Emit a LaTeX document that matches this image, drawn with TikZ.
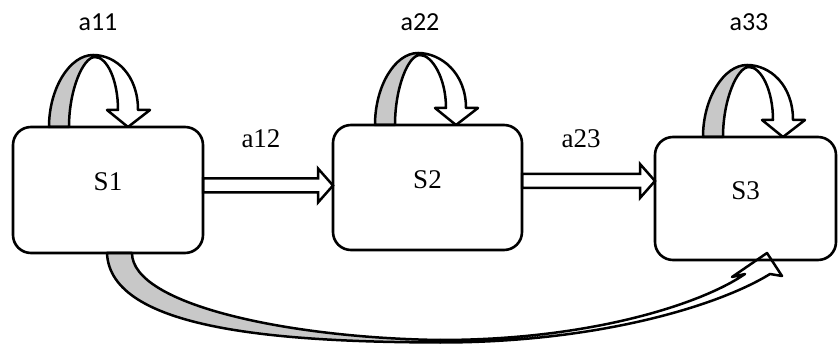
\documentclass[tikz,border=0pt]{standalone}
\usepackage{fontspec}
\setmainfont{Liberation Serif}
\newfontfamily\calibfont{Carlito}
\usetikzlibrary{calc}
\pgfdeclarelayer{back}
\pgfsetlayers{back,main}
\definecolor{ribbongrey}{RGB}{200,200,200}

\tikzset{
  state/.style={draw, line width=2.6pt, rounded corners=18pt, inner sep=0pt,
    outer sep=0pt, font=\fontsize{27}{30}\selectfont, text depth=16pt},
  steplabel/.style={anchor=base, inner sep=0pt, font=\fontsize{27}{30}\selectfont},
  looplabel/.style={anchor=base, inner sep=0pt, font=\calibfont\fontsize{26}{30}\selectfont},
  ribbonline/.style={line width=2.5pt, line join=round, draw=black},
  arrowline/.style={line width=2.5pt, line join=miter, draw=black, fill=white},
}

% Twisted ribbon loop on top of a state box.
% #1 node, #2 outer left x, #3 apex x, #4 outer right x (relative to north west corner)
\newcommand\selfloop[4]{%
  \begin{scope}[shift={(#1.north west)}]
    \filldraw[ribbonline, fill=ribbongrey]
      (#2,0) .. controls (#2,-39) and ({#3-23},-72) .. (#3,-72)
      -- ({#3+2},-70) .. controls ({#3-10},-70) and ({#2+20},-37) .. ({#2+20},0) -- cycle;
    \filldraw[ribbonline, fill=white]
      (#3,-72) .. controls ({#3+23},-72) and (#4,-52) .. (#4,-17)
      -- ({#4+12},-17) -- ({#4-10},0) -- ({#4-31},-17) -- ({#4-20},-17)
      .. controls ({#4-20},-47) and ({#3+14},-70) .. ({#3+2},-70) -- cycle;
  \end{scope}}

% Hollow block arrow from #1 to the tip #2 (same height)
\newcommand\hollowarrow[2]{%
  \draw[arrowline] let \p1=(#1), \p2=(#2) in
    (\x1,\y1+7pt) -- (\x2-15pt,\y1+7pt) -- (\x2-15pt,\y1+17pt) -- (\x2,\y1)
    -- (\x2-15pt,\y1-17pt) -- (\x2-15pt,\y1-7pt) -- (\x1,\y1-7pt) -- cycle;}

\begin{document}
\begin{tikzpicture}[x=1pt, y=-1pt]
  \useasboundingbox (0,0) rectangle (838,344);

  % states
  \node[state, minimum width=190pt, minimum height=126pt] (s1) at (108,190) {S1};
  \node[state, minimum width=189pt, minimum height=125pt] (s2) at (427.5,187.5) {S2};
  \node[state, minimum width=181pt, minimum height=123pt] (s3) at (745.5,198.5) {S3};

  % transition labels
  \node[looplabel] (l11) at (98,31) {a11};
  \node[looplabel] (l22) at (420,31) {a22};
  \node[looplabel] (l33) at (749,31) {a33};
  \node[steplabel] (l12) at (261,148) {a12};
  \node[steplabel] (l23) at (581,148) {a23};

  \begin{pgfonlayer}{back}
    % self transitions
    \selfloop{s1}{36}{80}{125}
    \selfloop{s2}{42}{85}{133}
    \selfloop{s3}{48}{92}{138}

    % forward transitions
    \coordinate (p12) at ([yshift=4.5pt]s1.east);
    \coordinate (p23) at ([yshift=6.5pt]s2.east);
    \hollowarrow{p12}{s2.west |- p12}
    \hollowarrow{p23}{s3.west |- p23}

    % S1 to S3 ribbon arrow under the boxes
    \begin{scope}[shift={(s1.south west)}]
      \filldraw[ribbonline, fill=ribbongrey]
        (94,0) .. controls (97,77) and (267,89) .. (427,89.5)
        -- (427,87) .. controls (277,85) and (119,52) .. (119,0) -- cycle;
      \filldraw[ribbonline, fill=white]
        (427,89.5) .. controls (587,89.5) and (707,52) .. (757,21)
        -- (769,23) -- (754,0) -- (719,24) -- (732,21)
        .. controls (690,50) and (580,87) .. (427,87) -- cycle;
    \end{scope}
  \end{pgfonlayer}
\end{tikzpicture}
\end{document}
